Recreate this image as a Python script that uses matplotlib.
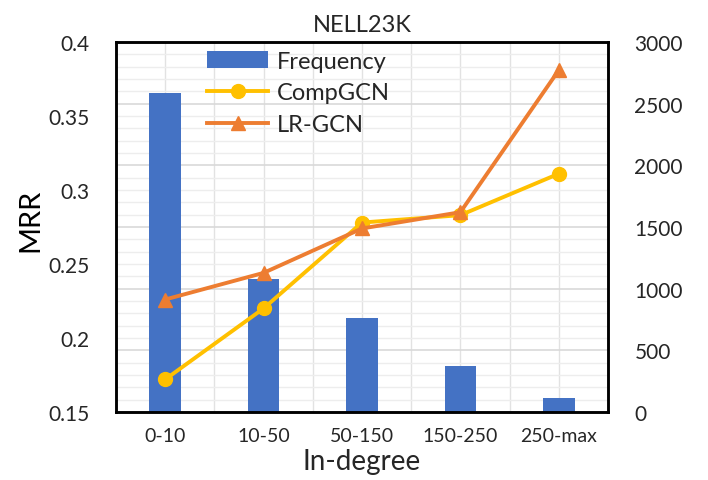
import matplotlib
matplotlib.use("Agg")
import matplotlib.pyplot as plt
import numpy as np
from matplotlib.ticker import MultipleLocator

plt.rcParams['font.family'] = ['Lato', 'DejaVu Sans']

categories = ["0-10", "10-50", "50-150", "150-250", "250-max"]
frequency = [2590, 1080, 765, 370, 115]
compgcn = [0.172, 0.220, 0.278, 0.283, 0.311]
lrgcn = [0.226, 0.244, 0.274, 0.285, 0.381]

fig = plt.figure(figsize=(7.08, 4.81), dpi=100)
ax2 = fig.add_axes([0.1638, 0.1414, 0.6950, 0.7692])  # frequency (right)
ax1 = ax2.twinx()
ax1.yaxis.tick_left()
ax1.yaxis.set_label_position("left")
ax2.yaxis.tick_right()
ax2.set_zorder(0)
ax1.set_zorder(1)
ax1.patch.set_visible(False)

x = np.arange(len(categories))

# grid on ax2
ax2.set_ylim(0, 3000)
ax2.yaxis.set_major_locator(MultipleLocator(500))
ax2.yaxis.set_minor_locator(MultipleLocator(100))
ax2.grid(True, which='major', axis='y', color='#d9d9d9', lw=1.2, zorder=0)
ax2.grid(True, which='minor', axis='y', color='#ededed', lw=1.0, zorder=0)
for xv in np.arange(-0.5, len(categories), 0.5):
    ax2.axvline(xv, color='#e2e2e2', lw=1.0, zorder=0)
ax2.set_axisbelow(True)

ax2.bar(x, frequency, width=0.32, color='#4472C4', zorder=2, label='Frequency')
ax2.set_xlim(-0.5, len(categories) - 0.5)

l1, = ax1.plot(x, compgcn, color='#FFC000', lw=2.8, marker='o', ms=10, label='CompGCN')
l2, = ax1.plot(x, lrgcn, color='#ED7D31', lw=2.8, marker='^', ms=10.5, label='LR-GCN')
ax1.set_ylim(0.15, 0.4)
ax1.set_yticks([0.15, 0.2, 0.25, 0.3, 0.35, 0.4])
ax1.set_yticklabels(["0.15", "0.2", "0.25", "0.3", "0.35", "0.4"])

ax2.set_xticks(x)
ax2.set_xticklabels(categories)

for a in (ax1, ax2):
    for s in a.spines.values():
        s.set_color('black')
        s.set_linewidth(1.8)

ax1.tick_params(axis='y', length=0, pad=19, labelsize=15, colors='#262626')
ax2.tick_params(axis='y', which='both', length=0, pad=19, labelsize=15, colors='#262626')
ax2.tick_params(axis='x', length=0, pad=11, labelsize=14, colors='#262626')

ax1.set_ylabel("MRR", fontsize=21, color='black')
ax1.yaxis.set_label_coords(-0.148, 0.52)
ax2.set_xlabel("In-degree", fontsize=20, color='#262626', labelpad=3)
ax2.set_title("NELL23K", fontsize=17, color='#262626', pad=8)

bars_handle = ax2.containers[0]
leg = fig.legend([bars_handle, l1, l2], ["Frequency", "CompGCN", "LR-GCN"],
                 loc='upper left', bbox_to_anchor=(0.279, 0.912),
                 frameon=False, fontsize=17, handlelength=2.6, handleheight=0.7,
                 handletextpad=0.35, labelspacing=0.45, borderaxespad=0)
for t in leg.get_texts():
    t.set_color('#262626')

fig.savefig("out.png", dpi=100)
